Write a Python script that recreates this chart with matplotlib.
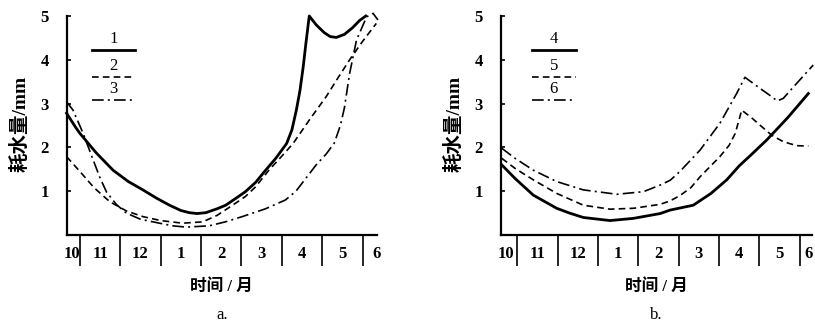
import matplotlib.pyplot as plt

# x: months counted from 1 Nov (0 = boundary 10|11), y: water use in mm
a1_x = [-0.33, -0.1, 0.0, 0.4, 0.82, 1.2, 1.56, 1.9, 2.22, 2.5, 2.71, 2.9, 3.12, 3.4, 3.61, 3.85, 4.1, 4.35, 4.6,
        4.85, 5.12, 5.25, 5.36, 5.45, 5.53, 5.6, 5.68, 5.85, 6.05, 6.2, 6.35, 6.55, 6.75, 6.93, 7.08]
a1_y = [2.78, 2.45, 2.32, 1.88, 1.48, 1.22, 1.03, 0.84, 0.68, 0.56, 0.51, 0.49, 0.51, 0.6, 0.68, 0.83, 0.99, 1.2, 1.48,
        1.75, 2.09, 2.4, 2.85, 3.3, 3.84, 4.4, 5.0, 4.8, 4.62, 4.53, 4.51, 4.58, 4.73, 4.9, 5.0]
a2_x = [-0.33, 0.0, 0.35, 0.74, 1.15, 1.56, 2.0, 2.54, 3.04, 3.4, 3.78, 4.1, 4.35, 4.68, 5.0, 5.28, 5.7, 6.1, 6.4,
        6.68, 7.0, 7.34]
a2_y = [1.79, 1.45, 1.08, 0.76, 0.55, 0.42, 0.33, 0.27, 0.3, 0.45, 0.68, 0.88, 1.1, 1.48, 1.8, 2.09, 2.65, 3.16, 3.6,
        4.0, 4.42, 4.83]
a3_x = [-0.33, -0.17, 0.08, 0.33, 0.5, 0.66, 0.9, 1.15, 1.5, 1.97, 2.3, 2.63, 3.2, 3.6, 4.02, 4.6, 5.09, 5.35, 5.6,
        5.85, 6.1, 6.3, 6.45, 6.55, 6.68, 6.85, 7.1, 7.26, 7.38]
a3_y = [3.04, 2.85, 2.32, 1.71, 1.3, 0.98, 0.7, 0.5, 0.36, 0.27, 0.21, 0.18, 0.21, 0.3, 0.42, 0.6, 0.8, 1.0, 1.3,
        1.6, 1.85, 2.1, 2.5, 2.9, 3.69, 4.45, 4.98, 5.06, 4.91]

b4_x = [-0.38, -0.05, 0.4, 0.98, 1.3, 1.64, 2.3, 2.88, 3.3, 3.54, 3.79, 4.36, 4.8, 5.19, 5.5, 5.85, 6.18, 6.7, 7.21]
b4_y = [1.6, 1.29, 0.91, 0.61, 0.5, 0.4, 0.33, 0.38, 0.45, 0.49, 0.57, 0.68, 0.95, 1.26, 1.58, 1.88, 2.17, 2.68, 3.23]
b5_x = [-0.38, -0.05, 0.4, 0.98, 1.64, 2.3, 2.88, 3.54, 3.79, 4.03, 4.3, 4.53, 5.02, 5.25, 5.4, 5.56, 5.8, 6.01,
        6.3, 6.59, 6.92, 7.21]
b5_y = [1.75, 1.52, 1.26, 0.95, 0.68, 0.59, 0.61, 0.7, 0.78, 0.9, 1.08, 1.33, 1.79, 2.05, 2.32, 2.85, 2.68, 2.51,
        2.28, 2.13, 2.04, 2.03]
b6_x = [-0.38, -0.05, 0.4, 0.98, 1.64, 2.47, 3.13, 3.54, 3.79, 4.03, 4.53, 5.02, 5.44, 5.64, 6.01, 6.3, 6.44, 6.59,
        6.92, 7.33]
b6_y = [1.98, 1.75, 1.48, 1.22, 1.03, 0.93, 0.99, 1.14, 1.25, 1.45, 1.94, 2.55, 3.24, 3.6, 3.35, 3.16, 3.06, 3.12,
        3.46, 3.88]

month_labels = ["10", "11", "12", "1", "2", "3", "4", "5", "6"]
boundaries = [0, 1, 2, 3, 4, 5, 6, 7]

CJK = ['Liberation Serif', 'Noto Sans CJK SC']
DASH = (0, (4, 2.5))
DASHDOT = (0, (7, 2.5, 1.2, 2.5))

fig = plt.figure(figsize=(8.15, 3.27), dpi=100)


def panel(rect, xlim, series, names, label_pos, tag, leg_x):
    ax = fig.add_axes(rect)
    for (x, y, ls, lw) in series:
        ax.plot(x, y, color='black', linestyle=ls, linewidth=lw, clip_on=False)
    ax.set_xlim(*xlim)
    ax.set_ylim(0, 5.05)
    ax.spines['top'].set_visible(False)
    ax.spines['right'].set_visible(False)
    ax.spines['left'].set_bounds(0, 5)
    ax.spines['left'].set_linewidth(1.6)
    ax.spines['bottom'].set_linewidth(1.6)
    ax.set_yticks([1, 2, 3, 4, 5])
    ax.set_yticklabels(['1', '2', '3', '4', '5'], fontfamily='Liberation Serif',
                       fontsize=12, fontweight='bold')
    ax.tick_params(axis='y', direction='in', length=3, width=1.2, pad=13)
    ax.set_xticks(boundaries)
    ax.set_xticklabels([])
    ax.tick_params(axis='x', which='major', direction='out', length=22, width=1.2)
    ax.set_xticks(label_pos, minor=True)
    ax.set_xticklabels(month_labels, minor=True, fontfamily='Liberation Serif',
                       fontsize=12, fontweight='bold')
    ax.tick_params(axis='x', which='minor', length=0, pad=8)
    ax.set_ylabel('耗水量/mm', family=CJK, fontsize=14, fontweight='bold', labelpad=8)
    ax.set_xlabel('时间 / 月', family=CJK, fontsize=12, fontweight='bold', labelpad=6)
    # legend: number above a short line sample
    ys = [0.835, 0.715, 0.61]
    for (x, y, ls, lw), name, yy in zip(series, names, ys):
        ax.plot([leg_x, leg_x + 0.14], [yy, yy], transform=ax.transAxes,
                color='black', linestyle=ls, linewidth=lw)
        ax.text(leg_x + 0.07, yy + 0.015, name, transform=ax.transAxes, ha='center',
                va='bottom', fontfamily='Liberation Serif', fontsize=12)
    ax.text(0.5, -0.36, tag, transform=ax.transAxes, ha='center', va='center',
            fontfamily='Liberation Serif', fontsize=12)
    return ax


panel([0.0822, 0.2813, 0.380, 0.6765], (-0.32, 7.35),
      [(a1_x, a1_y, '-', 2.0), (a2_x, a2_y, DASH, 1.2), (a3_x, a3_y, DASHDOT, 1.2)],
      ['1', '2', '3'], [-0.2, 0.5, 1.5, 2.5, 3.5, 4.5, 5.5, 6.5, 7.35], 'a.', 0.08)

panel([0.6147, 0.2813, 0.3816, 0.6765], (-0.4, 7.3),
      [(b4_x, b4_y, '-', 2.0), (b5_x, b5_y, DASH, 1.2), (b6_x, b6_y, DASHDOT, 1.2)],
      ['4', '5', '6'], [-0.28, 0.5, 1.5, 2.5, 3.5, 4.5, 5.5, 6.5, 7.22], 'b.', 0.1)

fig.savefig('out.png', dpi=100)
